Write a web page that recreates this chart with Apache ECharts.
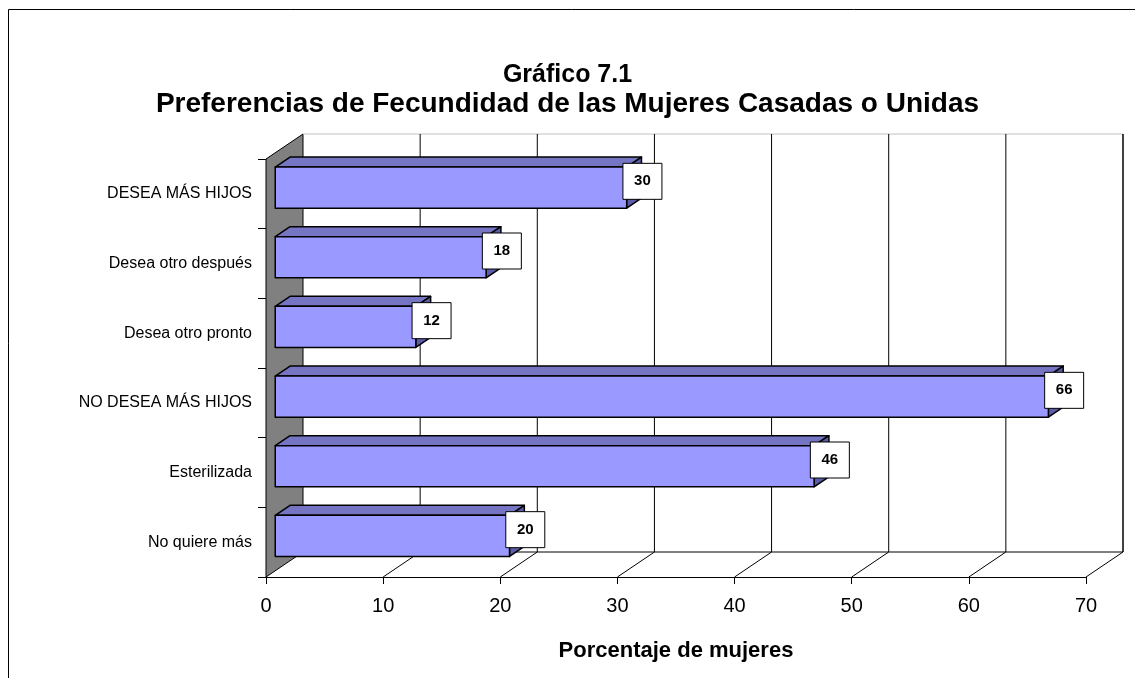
<!DOCTYPE html>
<html>
<head>
<meta charset="utf-8">
<script src="https://cdn.jsdelivr.net/npm/echarts@6/dist/echarts.min.js"></script>
<style>
  html, body { margin: 0; padding: 0; background: #fff; }
  #chart { width: 1135px; height: 678px; }
</style>
</head>
<body>
<div id="chart"></div>
<script>
const categories = ['DESEA MÁS HIJOS', 'Desea otro después', 'Desea otro pronto', 'NO DESEA MÁS HIJOS', 'Esterilizada', 'No quiere más'];
const values = [30, 18, 12, 66, 46, 20];
const ticks = [0, 10, 20, 30, 40, 50, 60, 70];

// depth of the 3D box (back wall offset)
const DX = 37, DY = -25;
const F1 = 0.25, F2 = 0.65; // bar front/back position inside the depth
const FONT = '"Liberation Sans", Arial, sans-serif';

const chart = echarts.init(document.getElementById('chart'), null, {renderer: 'canvas'});

function wallItem(params, api) {
  const cs = params.coordSys;
  const v = api.value(0);
  const x = api.coord([v, 0])[0];
  const yb = cs.y + cs.height;
  const yt = cs.y;
  const children = [];
  if (params.dataIndex === 0) {
    const xr = api.coord([ticks[ticks.length - 1], 0])[0];
    // left grey wall
    children.push({type: 'polygon', shape: {points: [[x, yt], [x + DX, yt + DY], [x + DX, yb + DY], [x, yb]]},
      style: {fill: '#808080', stroke: '#000', lineWidth: 1}});
    // back wall top and back floor edge
    children.push({type: 'line', shape: {x1: x + DX, y1: yt + DY, x2: xr + DX, y2: yt + DY}, style: {stroke: '#c0c0c0', lineWidth: 1}});
    children.push({type: 'line', shape: {x1: x + DX, y1: yb + DY, x2: xr + DX, y2: yb + DY}, style: {stroke: '#000', lineWidth: 1}});
  } else {
    // vertical gridline on back wall
    children.push({type: 'line', shape: {x1: x + DX, y1: yt + DY, x2: x + DX, y2: yb + DY},
      style: {stroke: '#000', lineWidth: v === ticks[ticks.length - 1] ? 1.5 : 1}});
    // floor line
    children.push({type: 'line', shape: {x1: x, y1: yb, x2: x + DX, y2: yb + DY}, style: {stroke: '#000', lineWidth: 1}});
  }
  return {type: 'group', children: children};
}

function barItem(params, api) {
  const v = api.value(0), i = api.value(1);
  const p0 = api.coord([0, i]);
  const pv = api.coord([v, i]);
  const band = api.size([0, 1])[1];
  const h = band * 0.59;
  const xa = p0[0] + F1 * DX, xb = pv[0] + F1 * DX;
  const yc = p0[1] + F1 * DY;
  const yt = yc - h / 2, yb = yc + h / 2;
  const ddx = (F2 - F1) * DX, ddy = (F2 - F1) * DY;
  const line = {stroke: '#000', lineWidth: 1.5, lineJoin: 'round'};
  const bx = pv[0] + 25, by = p0[1] - 12.5;
  return {type: 'group', children: [
    {type: 'polygon', shape: {points: [[xa, yt], [xb, yt], [xb + ddx, yt + ddy], [xa + ddx, yt + ddy]]},
      style: Object.assign({fill: '#7575c4'}, line)},
    {type: 'polygon', shape: {points: [[xb, yt], [xb + ddx, yt + ddy], [xb + ddx, yb + ddy], [xb, yb]]},
      style: Object.assign({fill: '#5c5ca8'}, line)},
    {type: 'rect', shape: {x: xa, y: yt, width: xb - xa, height: h},
      style: Object.assign({fill: '#9999ff'}, line)},
    {type: 'rect', shape: {x: bx - 19.5, y: by - 18, width: 39, height: 36},
      style: {fill: '#fff', stroke: '#000', lineWidth: 1}},
    {type: 'text', style: {x: bx, y: by, text: String(v), align: 'center', verticalAlign: 'middle',
      font: 'bold 15px ' + FONT, fill: '#000'}}
  ]};
}

const option = {
  animation: false,
  backgroundColor: '#fff',
  title: {
    text: '{a|Gráfico 7.1}\n{b|Preferencias de Fecundidad de las Mujeres Casadas o Unidas}',
    left: 'center',
    top: 56,
    textStyle: {
      rich: {
        a: {fontFamily: FONT, fontWeight: 'bold', fontSize: 25, lineHeight: 29, color: '#000', align: 'center'},
        b: {fontFamily: FONT, fontWeight: 'bold', fontSize: 28, lineHeight: 29, color: '#000', align: 'center'}
      }
    }
  },
  graphic: [
    {type: 'polyline', shape: {points: [[8.5, 678], [8.5, 9.5], [1135, 9.5]]}, style: {stroke: '#000', lineWidth: 1, fill: null}}
  ],
  grid: {left: 266, right: 49, top: 159, bottom: 101},
  xAxis: {
    type: 'value', min: 0, max: 70, interval: 10,
    name: 'Porcentaje de mujeres', nameLocation: 'middle', nameGap: 63,
    nameTextStyle: {fontFamily: FONT, fontWeight: 'bold', fontSize: 22, color: '#000'},
    axisLine: {show: true, lineStyle: {color: '#000', width: 1}},
    axisTick: {show: true, length: 7, lineStyle: {color: '#000'}},
    axisLabel: {fontFamily: FONT, fontSize: 20, color: '#000', margin: 19},
    splitLine: {show: false}
  },
  yAxis: {
    type: 'category', data: categories, inverse: true,
    axisLine: {show: true, lineStyle: {color: '#000'}},
    axisTick: {show: true, length: 8, lineStyle: {color: '#000'}},
    axisLabel: {fontFamily: FONT, fontSize: 16, color: '#000', margin: 14},
    splitLine: {show: false}
  },
  series: [
    {type: 'custom', renderItem: wallItem, data: ticks.map(t => [t, 0]), encode: {x: 0, y: 1}, z: 1, silent: true},
    {type: 'custom', renderItem: barItem, data: values.map((v, i) => [v, i]), encode: {x: 0, y: 1}, z: 3}
  ]
};
chart.setOption(option);
</script>
</body>
</html>
